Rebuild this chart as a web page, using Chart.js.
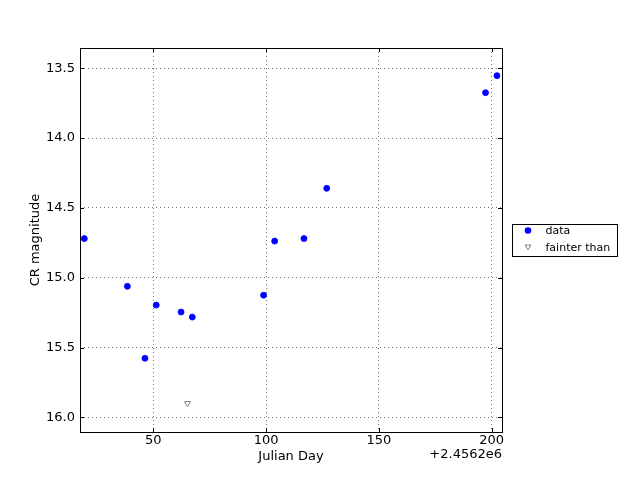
<!DOCTYPE html>
<html><head><meta charset="utf-8">
<script src="https://cdn.jsdelivr.net/npm/chart.js@4/dist/chart.umd.min.js"></script>
<style>html,body{margin:0;padding:0;background:#fff;overflow:hidden}canvas{display:block}</style>
</head><body>
<canvas id="c" width="640" height="480"></canvas>
<script>
// Julian Day values are offsets from 2456200 (shown as +2.4562e6)
const dataJD  = [19.4, 38.5, 46.3, 51.3, 62.3, 67.3, 98.9, 103.8, 116.8, 126.9, 197.3, 202.35];
const dataMag = [14.72, 15.062, 15.577, 15.196, 15.246, 15.282, 15.125, 14.738, 14.72, 14.36, 13.675, 13.553];
const limitJD  = [65.2];
const limitMag = [15.9];
const xTicks = [50, 100, 150, 200];
const yTicks = [13.5, 14.0, 14.5, 15.0, 15.5, 16.0];
const seriesNames = ['data', 'fainter than'];
const xLabel = 'Julian Day';
const yLabel = 'CR magnitude';
const offsetLabel = '+2.4562e6';

Chart.defaults.font.family = 'DejaVu Sans';
Chart.defaults.font.size = 13;
Chart.defaults.color = '#000';

const toPts = (xs, ys) => xs.map((v, i) => ({x: v, y: ys[i]}));

const decor = {
  id: 'decor',
  afterDraw(chart) {
    const {ctx, chartArea: a, scales: {x, y}} = chart;
    ctx.save();
    ctx.strokeStyle = '#000';
    ctx.lineWidth = 1;
    ctx.strokeRect(a.left + 0.5, a.top + 0.5, a.right - a.left, a.bottom - a.top);
    ctx.beginPath();
    xTicks.forEach(v => {
      const px = Math.round(x.getPixelForValue(v)) + 0.5;
      ctx.moveTo(px, a.bottom); ctx.lineTo(px, a.bottom - 4);
      ctx.moveTo(px, a.top); ctx.lineTo(px, a.top + 4);
    });
    yTicks.forEach(v => {
      const py = Math.round(y.getPixelForValue(v)) + 0.5;
      ctx.moveTo(a.left, py); ctx.lineTo(a.left + 4, py);
      ctx.moveTo(a.right, py); ctx.lineTo(a.right - 4, py);
    });
    ctx.stroke();

    // axis titles + offset text
    ctx.fillStyle = '#000';
    ctx.font = '13px "DejaVu Sans"';
    ctx.textAlign = 'center';
    ctx.textBaseline = 'alphabetic';
    ctx.fillText(xLabel, (a.left + a.right) / 2, 460);
    ctx.textAlign = 'right';
    ctx.fillText(offsetLabel, a.right, 457.5);
    ctx.save();
    ctx.translate(38.5, (a.top + a.bottom) / 2);
    ctx.rotate(-Math.PI / 2);
    ctx.textAlign = 'center';
    ctx.fillText(yLabel, 0, 0);
    ctx.restore();

    // legend
    ctx.lineWidth = 1;
    ctx.strokeStyle = '#000';
    ctx.fillStyle = '#fff';
    ctx.fillRect(512.5, 224.5, 105, 32);
    ctx.strokeRect(512.5, 224.5, 105, 32);
    const ds = chart.data.datasets;
    // circle
    ctx.beginPath();
    ctx.fillStyle = ds[0].backgroundColor;
    ctx.arc(528, 230.5, 3.3, 0, Math.PI * 2);
    ctx.fill();
    // triangle (down)
    ctx.beginPath();
    ctx.strokeStyle = ds[1].borderColor;
    const tx = 528, ty = 247.5, r = 3;
    ctx.moveTo(tx - r, ty - r * 0.8);
    ctx.lineTo(tx + r, ty - r * 0.8);
    ctx.lineTo(tx, ty + r * 0.8);
    ctx.closePath();
    ctx.stroke();
    ctx.fillStyle = '#000';
    ctx.font = '11px "DejaVu Sans"';
    ctx.textAlign = 'left';
    ctx.textBaseline = 'middle';
    ctx.fillText(ds[0].label, 545.5, 231);
    ctx.fillText(ds[1].label, 545.5, 248);
    ctx.restore();
  }
};

new Chart(document.getElementById('c'), {
  type: 'scatter',
  data: {
    datasets: [
      {
        label: seriesNames[0],
        data: toPts(dataJD, dataMag),
        pointStyle: 'circle',
        pointRadius: 3,
        borderWidth: 0.8,
        backgroundColor: '#0000ff',
        borderColor: '#0000ff'
      },
      {
        label: seriesNames[1],
        data: toPts(limitJD, limitMag),
        pointStyle: 'triangle',
        rotation: 180,
        pointRadius: 3.5,
        borderWidth: 1,
        backgroundColor: 'rgba(255,255,255,0)',
        borderColor: '#808080'
      }
    ]
  },
  options: {
    responsive: false,
    animation: false,
    devicePixelRatio: 1,
    layout: { padding: { top: 48, right: 138, bottom: 0, left: 0 } },
    plugins: { legend: { display: false }, tooltip: { enabled: false } },
    scales: {
      x: {
        type: 'linear',
        min: 17.5, max: 204.6,
        afterBuildTicks: s => { s.ticks = xTicks.map(v => ({value: v})); },
        afterFit: s => { s.height = 48; },
        ticks: { padding: 1, callback: v => String(v), maxRotation: 0, autoSkip: false },
        grid: { color: 'rgba(0,0,0,0.55)', lineWidth: 1, drawTicks: false },
        border: { display: false, dash: [1, 3] }
      },
      y: {
        type: 'linear',
        reverse: true,
        min: 13.355, max: 16.105,
        afterBuildTicks: s => { s.ticks = yTicks.map(v => ({value: v})); },
        afterFit: s => { s.width = 80; },
        ticks: { padding: 5, callback: v => v.toFixed(1), autoSkip: false },
        grid: { color: 'rgba(0,0,0,0.55)', lineWidth: 1, drawTicks: false },
        border: { display: false, dash: [1, 3] }
      }
    }
  },
  plugins: [decor]
});
</script>
</body></html>
